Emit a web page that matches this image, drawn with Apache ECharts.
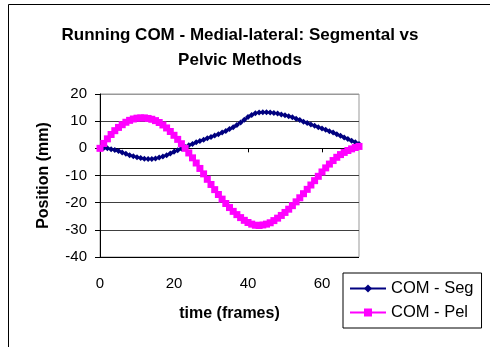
<!DOCTYPE html>
<html style="height: 100%">
<head>
<meta charset="utf-8">
<script src="https://cdn.jsdelivr.net/npm/echarts@6/dist/echarts.min.js"></script>
</head>
<body style="height: 100%; margin: 0; background: #fff">
<div id="container" style="width: 490px; height: 347px"></div>
<script type="text/javascript">
// frames 0..70
var frames = [];
for (var i = 0; i <= 70; i++) frames.push(i);

var segValues = [
    0, 0.1, 0, -0.3, -0.6, -1, -1.5, -2, -2.5, -2.9,
    -3.3, -3.6, -3.8, -3.9, -3.9, -3.7, -3.4, -3, -2.5, -1.9,
    -1.3, -0.7, -0.1, 0.5, 1.1, 1.6, 2.2, 2.7, 3.2, 3.7,
    4.2, 4.7, 5.2, 5.8, 6.4, 7.1, 7.8, 8.6, 9.5, 10.5,
    11.5, 12.3, 12.9, 13.2, 13.3, 13.3, 13.2, 13, 12.8, 12.5,
    12.2, 11.8, 11.4, 10.9, 10.4, 9.8, 9.3, 8.8, 8.3, 7.8,
    7.3, 6.8, 6.3, 5.8, 5.2, 4.6, 4, 3.4, 2.8, 2.2,
    1.6
];

var pelValues = [
    0, 1.8, 3.5, 5.1, 6.5, 7.7, 8.7, 9.6, 10.3, 10.8,
    11.1, 11.2, 11.2, 11, 10.7, 10.2, 9.5, 8.6, 7.5, 6.2,
    4.8, 3.3, 1.7, 0, -1.7, -3.5, -5.4, -7.4, -9.4, -11.4,
    -13.3, -15.2, -17, -18.7, -20.3, -21.8, -23.2, -24.4, -25.5, -26.5,
    -27.3, -27.9, -28.3, -28.4, -28.2, -27.9, -27.4, -26.6, -25.7, -24.7,
    -23.6, -22.4, -21.1, -19.7, -18.2, -16.7, -15.1, -13.5, -11.9, -10.3,
    -8.7, -7.2, -5.8, -4.5, -3.3, -2.3, -1.5, -0.8, -0.2, 0.3,
    0.7
];

var xTicks = [0, 20, 40, 60];
var yTicks = [-40, -30, -20, -10, 0, 10, 20];

function pairs(vals) {
    return frames.map(function (f, i) { return [f, vals[i]]; });
}

var font = 'Liberation Sans, Arial, sans-serif';
var myChart = echarts.init(document.getElementById('container'));

var option = {
    animation: false,
    backgroundColor: '#fff',
    title: {
        text: 'Running COM - Medial-lateral: Segmental vs\nPelvic Methods',
        left: 235,
        top: 18,
        textAlign: 'center',
        textStyle: { fontFamily: font, fontSize: 17, fontWeight: 'bold', color: '#000', lineHeight: 25 }
    },
    graphic: [{
        type: 'rect',
        shape: { x: 8.5, y: 4.5, width: 600, height: 500 },
        style: { fill: 'none', stroke: '#000', lineWidth: 1 },
        silent: true
    }],
    legend: {
        orient: 'vertical',
        left: 343,
        top: 273,
        width: 143,
        padding: [7, 8, 7, 6],
        itemGap: 7,
        itemWidth: 36,
        itemHeight: 10,
        borderColor: '#000',
        borderWidth: 1,
        backgroundColor: '#fff',
        textStyle: { fontFamily: font, fontSize: 16.5, color: '#000', padding: [0, 0, 0, 0] },
        data: ['COM - Seg', 'COM - Pel']
    },
    grid: {
        left: 100,
        top: 94,
        right: 131,
        bottom: 90,
        show: true,
        borderColor: '#999',
        borderWidth: 1
    },
    xAxis: {
        type: 'value',
        min: 0,
        max: 70,
        interval: 20,
        name: 'time (frames)',
        nameLocation: 'middle',
        nameGap: 49,
        nameTextStyle: { fontFamily: font, fontSize: 16, fontWeight: 'bold', color: '#000' },
        axisLine: { lineStyle: { color: '#000', width: 1 } },
        axisTick: { show: true, inside: false, length: 4, lineStyle: { color: '#000' } },
        axisLabel: {
            margin: 19,
            showMaxLabel: false,
            fontFamily: font, fontSize: 15, color: '#000',
            formatter: function (v) { return xTicks.indexOf(v) >= 0 ? String(v) : ''; }
        },
        splitLine: { show: false }
    },
    yAxis: {
        type: 'value',
        min: -40,
        max: 20,
        interval: 10,
        name: 'Position (mm)',
        nameLocation: 'middle',
        nameGap: 48,
        nameTextStyle: { fontFamily: font, fontSize: 16, fontWeight: 'bold', color: '#000' },
        axisLine: { show: true, lineStyle: { color: '#000', width: 1 } },
        axisTick: { show: true, inside: false, length: 5, lineStyle: { color: '#000' } },
        axisLabel: {
            margin: 13,
            fontFamily: font, fontSize: 15, color: '#000',
            formatter: function (v) { return yTicks.indexOf(v) >= 0 ? String(v) : ''; }
        },
        splitLine: {
            show: true,
            lineStyle: { color: ['#000', '#404040', '#404040', '#404040', '#404040', '#404040', '#999'], width: 1 }
        }
    },
    series: [
        {
            name: 'COM - Seg',
            type: 'line',
            data: pairs(segValues),
            symbol: 'diamond',
            symbolSize: 6,
            showAllSymbol: true,
            lineStyle: { color: '#000080', width: 2 },
            itemStyle: { color: '#000080' },
            z: 3
        },
        {
            name: 'COM - Pel',
            type: 'line',
            data: pairs(pelValues),
            symbol: 'rect',
            symbolSize: 7,
            showAllSymbol: true,
            lineStyle: { color: '#FF00FF', width: 2 },
            itemStyle: { color: '#FF00FF' },
            z: 4
        }
    ]
};

myChart.setOption(option);
</script>
</body>
</html>
